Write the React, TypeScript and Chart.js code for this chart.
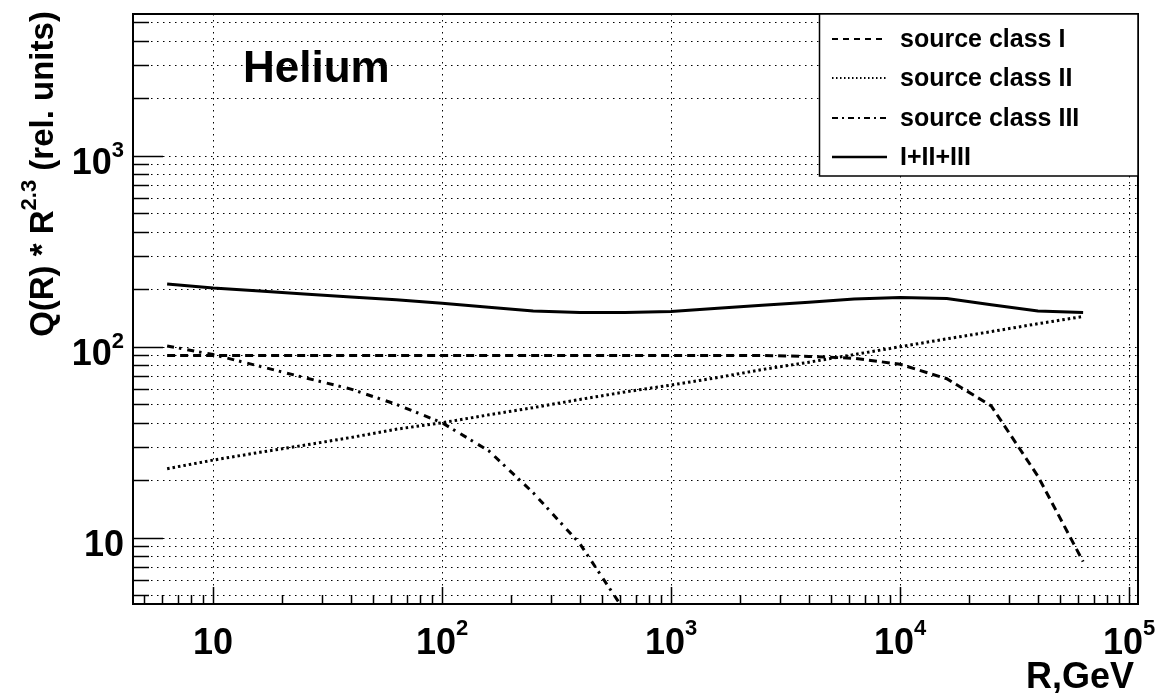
import React, { useEffect, useRef } from 'react';
import { Chart, registerables } from 'chart.js';

Chart.register(...registerables);

// ---- data ----
const R = [6.3, 10, 16, 25, 40, 63, 100, 160, 250, 400, 630, 1000, 1600, 2500, 4000, 6300, 10000, 16000, 25000, 40000, 63000];
const classI = [90, 90, 90, 90, 90, 90, 90, 90, 90, 90, 90, 90, 90, 90, 89, 87, 81, 68, 49, 21, 7.5];
const classII = [23, 25.5, 28, 30.5, 33.5, 37, 40, 44, 48, 53, 58, 63, 69, 76, 83, 91, 100, 110, 120, 132, 144];
const classIII = [101, 91, 79, 69, 60, 50, 40, 28.5, 17.2, 9.3, 4.1, null, null, null, null, null, null, null, null, null, null];
const total = [213, 203, 196, 189, 182, 176, 169, 161, 154, 151, 151, 153, 159, 165, 171, 178, 181, 179, 166, 154, 151];

const seriesNames = ['source class I', 'source class II', 'source class III', 'I+II+III'];
const xMajorTicks = [10, 100, 1000, 10000, 100000];
const xMajorExp = ['', '2', '3', '4', '5'];
const yMajorTicks = [10, 100, 1000];
const yMajorExp = ['', '2', '3'];
const X_MIN = 4.47;
const X_MAX = 1.094e5;
const Y_MIN = 4.5;
const Y_MAX = 5520;

const FONT = '"Liberation Sans", Arial, Helvetica, sans-serif';

function logTicks(min: number, max: number): number[] {
  const out: number[] = [];
  for (let e = Math.floor(Math.log10(min)); e <= Math.ceil(Math.log10(max)); e++) {
    const d = Math.pow(10, e);
    for (let m = 1; m <= 9; m++) {
      const v = m * d;
      if (v >= min * 0.9999 && v <= max * 1.0001) out.push(v);
    }
  }
  return out;
}
const isMajor = (v: number) => Math.abs(Math.log10(v) - Math.round(Math.log10(v))) < 1e-9;

function drawPow(ctx: CanvasRenderingContext2D, base: string, exp: string, x: number, baseline: number, align: 'center' | 'right', size: number, expSize: number, raise: number) {
  ctx.font = `bold ${size}px ${FONT}`;
  const bw = ctx.measureText(base).width;
  ctx.font = `bold ${expSize}px ${FONT}`;
  const ew = exp ? ctx.measureText(exp).width : 0;
  const totalW = bw + ew;
  const start = align === 'center' ? x - totalW / 2 : x - totalW;
  ctx.textAlign = 'left';
  ctx.textBaseline = 'alphabetic';
  ctx.font = `bold ${size}px ${FONT}`;
  ctx.fillText(base, start, baseline);
  if (exp) {
    ctx.font = `bold ${expSize}px ${FONT}`;
    ctx.fillText(exp, start + bw, baseline - raise);
  }
}

const dashes: number[][] = [[8, 5], [2.5, 3], [7, 5, 2.5, 6], []];
const legendDashes: number[][] = [[6, 5], [1.5, 2.5], [6, 4, 2, 4], []];

const rootStyle = {
  id: 'rootStyle',
  beforeDatasetsDraw(chart: any) {
    const { ctx, chartArea: a, scales } = chart;
    const xs = scales.x, ys = scales.y;
    ctx.save();
    ctx.beginPath();
    ctx.rect(a.left, a.top, a.right - a.left, a.bottom - a.top);
    ctx.clip();
    ctx.strokeStyle = '#000';
    ctx.lineWidth = 1;
    ctx.setLineDash([1.5, 4.5]);
    for (const v of xMajorTicks) {
      const px = Math.round(xs.getPixelForValue(v)) + 0.5;
      ctx.beginPath();
      ctx.moveTo(px, a.top);
      ctx.lineTo(px, a.bottom);
      ctx.stroke();
    }
    for (const v of logTicks(Y_MIN, Y_MAX)) {
      const py = Math.round(ys.getPixelForValue(v)) + 0.5;
      ctx.beginPath();
      ctx.moveTo(a.left, py);
      ctx.lineTo(a.right, py);
      ctx.stroke();
    }
    ctx.restore();
  },
  afterDraw(chart: any) {
    const { ctx, chartArea: a, scales } = chart;
    const xs = scales.x, ys = scales.y;
    ctx.save();
    ctx.strokeStyle = '#000';
    ctx.fillStyle = '#000';
    ctx.setLineDash([]);
    // ticks
    ctx.lineWidth = 1.5;
    for (const v of logTicks(X_MIN, X_MAX)) {
      const px = Math.round(xs.getPixelForValue(v)) + 0.5;
      const len = isMajor(v) ? 17 : 9;
      ctx.beginPath();
      ctx.moveTo(px, a.bottom);
      ctx.lineTo(px, a.bottom - len);
      ctx.stroke();
    }
    for (const v of logTicks(Y_MIN, Y_MAX)) {
      const py = Math.round(ys.getPixelForValue(v)) + 0.5;
      const len = isMajor(v) ? 30 : 16;
      ctx.beginPath();
      ctx.moveTo(a.left, py);
      ctx.lineTo(a.left + len, py);
      ctx.stroke();
    }
    // frame
    ctx.lineWidth = 2;
    ctx.strokeRect(a.left, a.top, a.right - a.left, a.bottom - a.top);

    // x labels
    xMajorTicks.forEach((v, i) => {
      const px = xs.getPixelForValue(v);
      drawPow(ctx, '10', xMajorExp[i], px, a.bottom + 50, 'center', 36, 22, 19);
    });
    // y labels
    yMajorTicks.forEach((v, i) => {
      const py = ys.getPixelForValue(v);
      drawPow(ctx, '10', yMajorExp[i], 124, py + 18, 'right', 36, 22, 17);
    });

    // x title
    ctx.font = `bold 36px ${FONT}`;
    ctx.textAlign = 'right';
    ctx.textBaseline = 'alphabetic';
    ctx.fillText('R,GeV', 1134, 688);

    // y title (rotated)
    ctx.save();
    ctx.translate(53, 174);
    ctx.rotate(-Math.PI / 2);
    const p1 = 'Q(R) * R';
    const p2 = '2.3';
    const p3 = ' (rel. units)';
    ctx.font = `bold 33px ${FONT}`;
    const w1 = ctx.measureText(p1).width;
    const w3 = ctx.measureText(p3).width;
    ctx.font = `bold 22px ${FONT}`;
    const w2 = ctx.measureText(p2).width;
    let sx = -(w1 + w2 + w3) / 2;
    ctx.textAlign = 'left';
    ctx.font = `bold 33px ${FONT}`;
    ctx.fillText(p1, sx, 0);
    sx += w1;
    ctx.font = `bold 22px ${FONT}`;
    ctx.fillText(p2, sx, -17);
    sx += w2;
    ctx.font = `bold 33px ${FONT}`;
    ctx.fillText(p3, sx, 0);
    ctx.restore();

    // Helium label
    ctx.font = `bold 44px ${FONT}`;
    ctx.textAlign = 'left';
    ctx.fillText('Helium', 243, 82);

    // legend
    const lx0 = 819, ly0 = a.top, lx1 = a.right, ly1 = 176;
    ctx.fillStyle = '#fff';
    ctx.fillRect(lx0, ly0, lx1 - lx0, ly1 - ly0);
    ctx.strokeStyle = '#000';
    ctx.lineWidth = 1.5;
    ctx.strokeRect(lx0 + 0.5, ly0, lx1 - lx0 - 0.5, ly1 - ly0);
    const rows = [39, 78, 118, 157];
    ctx.fillStyle = '#000';
    seriesNames.forEach((name, i) => {
      const yy = rows[i];
      ctx.lineWidth = i === 3 ? 2.5 : 2;
      ctx.setLineDash(legendDashes[i]);
      ctx.beginPath();
      ctx.moveTo(832, yy);
      ctx.lineTo(887, yy);
      ctx.stroke();
      ctx.setLineDash([]);
      ctx.font = `bold 25px ${FONT}`;
      ctx.textAlign = 'left';
      ctx.textBaseline = 'middle';
      ctx.fillText(name, 900, yy + 1);
    });
    ctx.restore();
  },
};

export default function App() {
  const ref = useRef<HTMLCanvasElement | null>(null);
  useEffect(() => {
    if (!ref.current) return;
    const series = [classI, classII, classIII, total];
    const chart = new Chart(ref.current, {
      type: 'scatter',
      data: {
        datasets: series.map((s, i) => ({
          label: seriesNames[i],
          data: R.map((r, j) => ({ x: r, y: s[j] as any })),
          showLine: true,
          spanGaps: false,
          borderColor: '#000',
          backgroundColor: '#000',
          borderWidth: 3,
          borderDash: dashes[i],
          pointRadius: 0,
          tension: 0,
        })),
      },
      options: {
        responsive: false,
        animation: false,
        events: [],
        layout: { padding: { left: 133, top: 14, right: 20, bottom: 89 } },
        plugins: { legend: { display: false }, tooltip: { enabled: false } },
        scales: {
          x: {
            type: 'logarithmic',
            min: X_MIN,
            max: X_MAX,
            grid: { display: false, drawTicks: false },
            ticks: { display: false },
            border: { display: false },
            afterFit: (s: any) => { s.height = 0; },
          },
          y: {
            type: 'logarithmic',
            min: Y_MIN,
            max: Y_MAX,
            grid: { display: false, drawTicks: false },
            ticks: { display: false },
            border: { display: false },
            afterFit: (s: any) => { s.width = 0; },
          },
        },
      } as any,
      plugins: [rootStyle],
    });
    return () => chart.destroy();
  }, []);
  return (
    <div style={{ position: 'absolute', left: 0, top: 0, background: '#fff' }}>
      <canvas ref={ref} width={1158} height={693} style={{ display: 'block' }} />
    </div>
  );
}
